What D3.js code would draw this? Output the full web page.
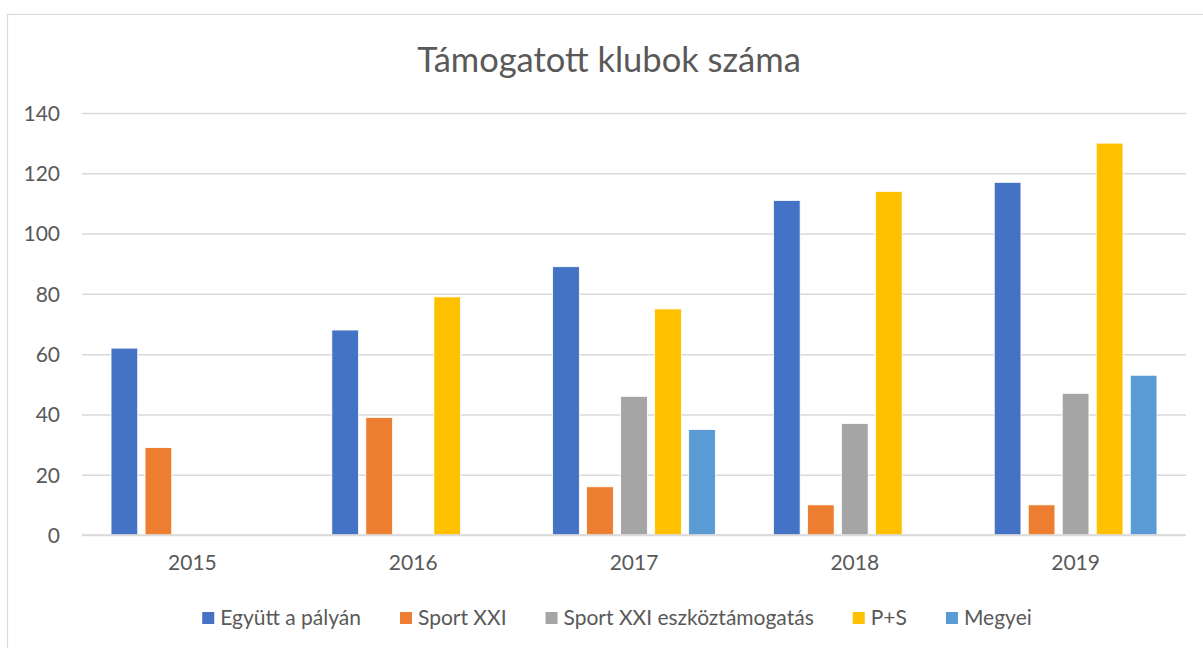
<!DOCTYPE html>
<html>
<head>
<meta charset="utf-8">
<script src="https://cdn.jsdelivr.net/npm/d3@7"></script>
<style>
  body { margin: 0; background: #fff; }
  svg text { font-family: Lato, "Open Sans", sans-serif; fill: #595959; }
</style>
</head>
<body>
<div id="chart"></div>
<script>
const years = ['2015', '2016', '2017', '2018', '2019'];
const seriesNames = ['Együtt a pályán', 'Sport XXI', 'Sport XXI eszköztámogatás', 'P+S', 'Megyei'];
const seriesColors = ['#4472C4', '#ED7D31', '#A5A5A5', '#FFC000', '#5B9BD5'];
// null = no bar in that year
const egyutt = [62, 68, 89, 111, 117];
const sportXXI = [29, 39, 16, 10, 10];
const eszkoz = [null, null, 46, 37, 47];
const ps = [null, 79, 75, 114, 130];
const megyei = [null, null, 35, null, 53];
const yTicks = [0, 20, 40, 60, 80, 100, 120, 140];

const values = [egyutt, sportXXI, eszkoz, ps, megyei];

const width = 1203, height = 648;
const margin = { top: 113, right: 17, bottom: 113, left: 82 };

let svg = d3.select('#chart').append('svg').attr('width', width).attr('height', height);

// chart frame (only top and left edges visible)
svg.append('line').attr('x1', 7).attr('x2', width).attr('y1', 14.5).attr('y2', 14.5)
  .attr('stroke', '#D9D9D9').attr('stroke-width', 1.2);
svg.append('line').attr('x1', 7.5).attr('x2', 7.5).attr('y1', 14).attr('y2', height)
  .attr('stroke', '#D9D9D9').attr('stroke-width', 1.2);

// title
svg.append('text')
  .attr('x', 609).attr('y', 72)
  .attr('text-anchor', 'middle')
  .style('font-size', '34.5px')
  .text('Támogatott klubok száma');

let y = d3.scaleLinear().domain([0, 140]).range([height - margin.bottom, margin.top]);
let x0 = d3.scaleBand().domain(years).range([margin.left, width - margin.right])
  .paddingInner(0.263).paddingOuter(0.1315);
let x1 = d3.scaleBand().domain(seriesNames).range([0, x0.bandwidth()]).paddingInner(0.215);

// gridlines
let yAxis = d3.axisLeft(y).tickValues(yTicks).tickSize(-(width - margin.left - margin.right)).tickPadding(22);
let gy = svg.append('g').attr('transform', `translate(${margin.left},0)`).call(yAxis);
gy.select('.domain').remove();
gy.selectAll('.tick line').attr('stroke', '#D9D9D9').attr('stroke-width', 1.5);
gy.selectAll('.tick text').style('font-size', '21px').attr('dy', '0.35em');

// bars
let groups = svg.append('g').selectAll('g')
  .data(years)
  .enter()
  .append('g')
  .attr('transform', d => `translate(${x0(d)},0)`);

groups.selectAll('rect')
  .data((yr, i) => seriesNames.map((s, k) => ({ s: s, k: k, v: values[k][i] })).filter(d => d.v != null))
  .enter()
  .append('rect')
  .attr('x', d => x1(d.s))
  .attr('width', x1.bandwidth())
  .attr('y', d => y(d.v))
  .attr('height', d => y(0) - y(d.v))
  .attr('fill', d => seriesColors[d.k])
  .attr('stroke', '#fff')
  .attr('stroke-width', 0.8);

// x axis labels
let xAxis = d3.axisBottom(x0).tickSize(0).tickPadding(20);
let gx = svg.append('g').attr('transform', `translate(0,${y(0)})`).call(xAxis);
gx.select('.domain').attr('stroke', '#D9D9D9').attr('stroke-width', 1.5)
  .attr('d', `M${margin.left},0H${width - margin.right}`);
gx.selectAll('.tick text').style('font-size', '21px');

// legend
let legend = svg.append('g');
let items = legend.selectAll('g').data(seriesNames).enter().append('g');
items.append('rect').attr('width', 12).attr('height', 12).attr('y', -6)
  .attr('fill', (d, i) => seriesColors[i]);
items.append('text').attr('x', 18).attr('dy', '0.35em').style('font-size', '21px').text(d => d);
let gap = 39;
let lx = 0;
items.each(function () {
  d3.select(this).attr('transform', `translate(${lx},0)`);
  lx += this.getBBox().width + gap;
});
lx -= gap;
legend.attr('transform', `translate(${617 - lx / 2},618)`);
</script>
</body>
</html>
